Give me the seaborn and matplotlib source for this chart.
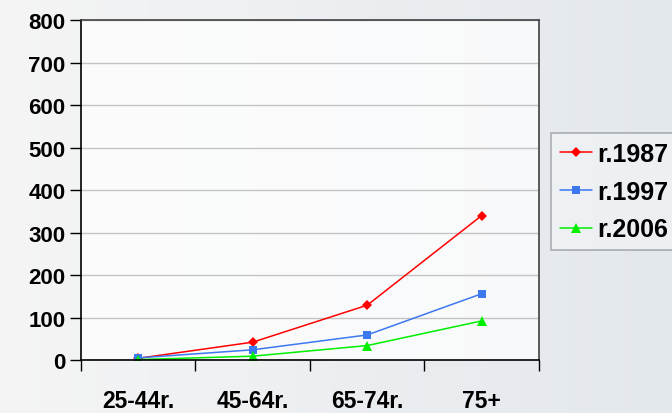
import numpy as np
import pandas as pd
import matplotlib.pyplot as plt
import seaborn as sns

groups = ["25-44r.", "45-64r.", "65-74r.", "75+"]
r1987 = [4, 42, 129, 340]
r1997 = [5, 24, 59, 156]
r2006 = [1, 9, 34, 92]
series = ["r.1987", "r.1997", "r.2006"]

df = pd.DataFrame({
    "grupa": groups * 3,
    "value": r1987 + r1997 + r2006,
    "rok": [s for s in series for _ in groups],
})

sns.set_style("white")
plt.rcParams["font.family"] = ["Liberation Sans", "DejaVu Sans"]
plt.rcParams["font.weight"] = "bold"
plt.rcParams["text.color"] = "black"
plt.rcParams["xtick.color"] = "black"
plt.rcParams["ytick.color"] = "black"
plt.rcParams["xtick.labelcolor"] = "black"
plt.rcParams["ytick.labelcolor"] = "black"

fig = plt.figure(figsize=(6.72, 4.14), dpi=100)
fig.patch.set_facecolor("#e6e9ee")

# soft light background
grad = np.linspace(0, 1, 672)[None, :] * np.ones((414, 1))
bg = np.dstack([0.96 - 0.07 * grad, 0.96 - 0.05 * grad, 0.96 - 0.03 * grad])
fig.figimage((bg * 255).astype(np.uint8), xo=0, yo=0, zorder=-10)

ax = fig.add_axes([0.1205, 0.128, 0.6815, 0.821])
ax.set_facecolor((1, 1, 1, 0.75))

palette = {"r.1987": "#ff0000", "r.1997": "#3c78f0", "r.2006": "#00ee00"}
markers = {"r.1987": "D", "r.1997": "s", "r.2006": "^"}
sizes = {"r.1987": 5, "r.1997": 6, "r.2006": 7}

for s in series:
    sub = df[df["rok"] == s]
    sns.lineplot(data=sub, x="grupa", y="value", color=palette[s], marker=markers[s],
                 markersize=sizes[s], markeredgewidth=0, linewidth=1.1, label=s, ax=ax,
                 sort=False)

ax.set_ylim(0, 800)
ax.set_xlim(-0.5, 3.5)
ax.set_yticks(range(0, 801, 100))
ax.yaxis.grid(True, color="#c4c4c4", linewidth=1)
ax.set_axisbelow(True)
ax.set_xlabel("")
ax.set_ylabel("")

ax.set_xticks(range(len(groups)))
ax.set_xticklabels(groups, fontsize=16.5, fontweight="bold", color="black")
ax.set_xticks(np.arange(-0.5, 4, 1), minor=True)
ax.tick_params(axis="x", which="major", bottom=True, length=0, pad=21)
ax.tick_params(axis="x", which="minor", bottom=True, length=8, width=1, color="black", direction="out")
ax.tick_params(axis="y", left=True, length=8, width=1, color="black", direction="out", pad=3,
               labelsize=16, labelcolor="black")
for lbl in ax.get_yticklabels():
    lbl.set_fontweight("bold")

for side in ["left", "bottom"]:
    ax.spines[side].set_color("black")
    ax.spines[side].set_linewidth(1.2)
for side in ["top", "right"]:
    ax.spines[side].set_visible(True)
    ax.spines[side].set_color("#404040")
    ax.spines[side].set_linewidth(1.2)

leg = ax.legend(loc="upper left", bbox_to_anchor=(0.82, 0.676), bbox_transform=fig.transFigure,
                frameon=True, fancybox=False, edgecolor="#333333", facecolor="white",
                framealpha=0.35, prop={"weight": "bold", "size": 18}, handlelength=1.3,
                handletextpad=0.2, labelspacing=0.55, borderpad=0.35, borderaxespad=0)
leg.get_frame().set_linewidth(1.2)
for t in leg.get_texts():
    t.set_color("black")

fig.savefig("out.png", dpi=100, facecolor=fig.get_facecolor())
